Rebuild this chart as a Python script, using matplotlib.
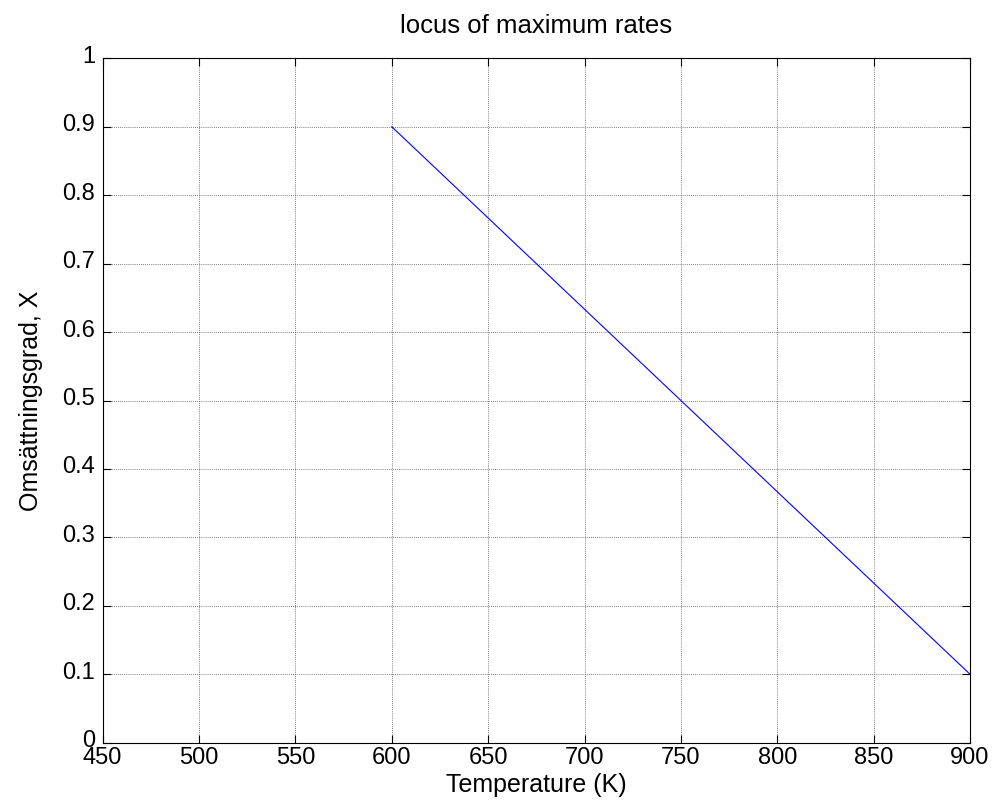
import matplotlib
matplotlib.use("Agg")
import matplotlib.pyplot as plt
import matplotlib.transforms as mtransforms

temperature = [600, 900]
conversion = [0.9, 0.1]
xticks = [450, 500, 550, 600, 650, 700, 750, 800, 850, 900]
yticks = [0, 0.1, 0.2, 0.3, 0.4, 0.5, 0.6, 0.7, 0.8, 0.9, 1]
yticklabels = ["0", "0.1", "0.2", "0.3", "0.4", "0.5", "0.6", "0.7", "0.8", "0.9", "1"]

plt.rcParams['font.family'] = ['Liberation Sans', 'DejaVu Sans']

fig = plt.figure(figsize=(9.95, 8.07), dpi=100)
ax = fig.add_axes([0.1032, 0.0797, 0.8717, 0.848])
ax.plot(temperature, conversion, color='#0000ff', linewidth=0.8)
ax.set_xlim(450, 900)
ax.set_ylim(0, 1)
ax.set_xticks(xticks)
ax.set_yticks(yticks)
ax.set_yticklabels(yticklabels)
ax.grid(True, linestyle=(0, (1, 1.5)), color='#555555', linewidth=0.6)
ax.tick_params(direction='in', length=6, width=0.8, top=True, right=True,
               labelsize=17)
ax.tick_params(axis='x', pad=3)
ax.tick_params(axis='y', pad=5.5)
for s in ax.spines.values():
    s.set_linewidth(0.8)

# MATLAB-style: y tick labels sit slightly above their tick
offset = mtransforms.ScaledTranslation(0, 0.04, fig.dpi_scale_trans)
for lbl in ax.get_yticklabels():
    lbl.set_transform(lbl.get_transform() + offset)

ax.set_xlabel('Temperature (K)', fontsize=18, labelpad=3)
ax.set_ylabel('Omsättningsgrad, X', fontsize=18, labelpad=14)
ax.set_title('locus of maximum rates', fontsize=18.5, pad=18)
fig.savefig('out.png', dpi=100)
